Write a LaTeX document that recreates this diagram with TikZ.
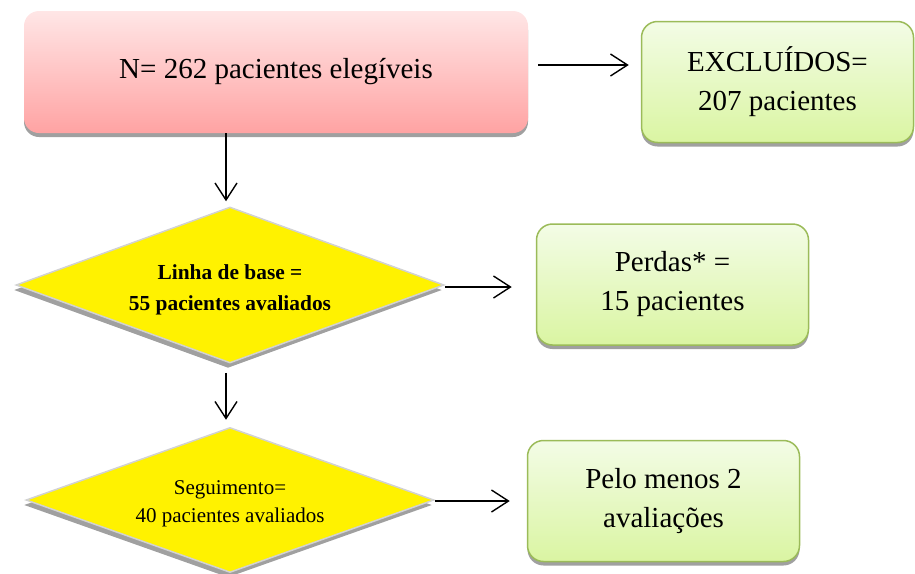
\documentclass[tikz,border=0pt]{standalone}
\usepackage{fontspec}
\setmainfont{Liberation Serif}
\usetikzlibrary{shapes.geometric,shadows,arrows.meta,calc}

\definecolor{pinktop}{HTML}{FFE6E6}
\definecolor{pinkbot}{HTML}{FFA3A3}
\definecolor{greentop}{HTML}{F3FCE6}
\definecolor{greenbot}{HTML}{DAF5A2}
\definecolor{greenline}{HTML}{9BBB59}
\definecolor{shadowgray}{HTML}{A0A0A0}
\definecolor{diamondline}{HTML}{D2D2D2}

\tikzset{
  boxshadow/.style={drop shadow={shadow xshift=0pt,shadow yshift=-4pt,fill=shadowgray,opacity=1}},
  pinkbox/.style={rectangle,rounded corners=15pt,inner sep=0pt,
    minimum width=504pt,minimum height=122pt,
    top color=pinktop,bottom color=pinkbot,boxshadow,
    font=\fontsize{29}{39}\selectfont},
  greenbox/.style={rectangle,rounded corners=16pt,inner sep=0pt,
    minimum width=272pt,minimum height=121pt,
    draw=greenline,line width=1.5pt,
    top color=greentop,bottom color=greenbot,boxshadow,
    align=center,font=\fontsize{29}{39}\selectfont},
  decision/.style={diamond,aspect=2.75,inner sep=0pt,
    fill=yellow,draw=diamondline,line width=1.5pt,
    drop shadow={shadow xshift=-2pt,shadow yshift=-5pt,fill=shadowgray,opacity=1}},
  arr/.style={line width=1.4pt,-{Straight Barb[length=17pt,width=22pt,line width=1.4pt]}}
}

\begin{document}
\begin{tikzpicture}[x=1pt,y=-1pt]
  \useasboundingbox (0,0) rectangle (915,573);

  % main flow
  \node[pinkbox] (n1) at (276,72) {N= 262 pacientes elegíveis};

  \node[decision,minimum width=428pt,minimum height=156pt,
        label={[align=center,yshift=-5pt,font=\fontsize{21.4}{31}\selectfont\bfseries]center:Linha de base =\\55 pacientes avaliados}]
        (d1) at (230,285) {};

  \node[decision,minimum width=408pt,minimum height=145pt,
        label={[align=center,yshift=-4pt,font=\fontsize{21}{27.5}\selectfont]center:Seguimento=\\40 pacientes avaliados}]
        (d2) at (230,500) {};

  % side outcomes
  \node[greenbox] (e1) at (777.5,82) {EXCLUÍDOS=\\ 207 pacientes};
  \node[greenbox] (p1) at (672.5,284.5) {Perdas* =\\ 15 pacientes};
  \node[greenbox] (m1) at (663.5,501) {Pelo menos 2\\avaliações};

  % connectors
  \draw[arr] ($(n1.east)+(10,-7)$) -- ($(e1.west |- n1.east)+(-12,-7)$);
  \draw[arr] ($(n1.south -| d1.north)+(-4,0)$) -- ($(d1.north)+(-4,-5)$);
  \draw[arr] (d1.east) ++(0,2) -- ($(p1.west |- d1.east)+(-24,2)$);
  \draw[arr] ($(d1.south)+(-4,9)$) -- ($(d2.north)+(-4,-7)$);
  \draw[arr] (d2.east) ++(0,1) -- ($(m1.west |- d2.east)+(-17,1)$);
\end{tikzpicture}
\end{document}
